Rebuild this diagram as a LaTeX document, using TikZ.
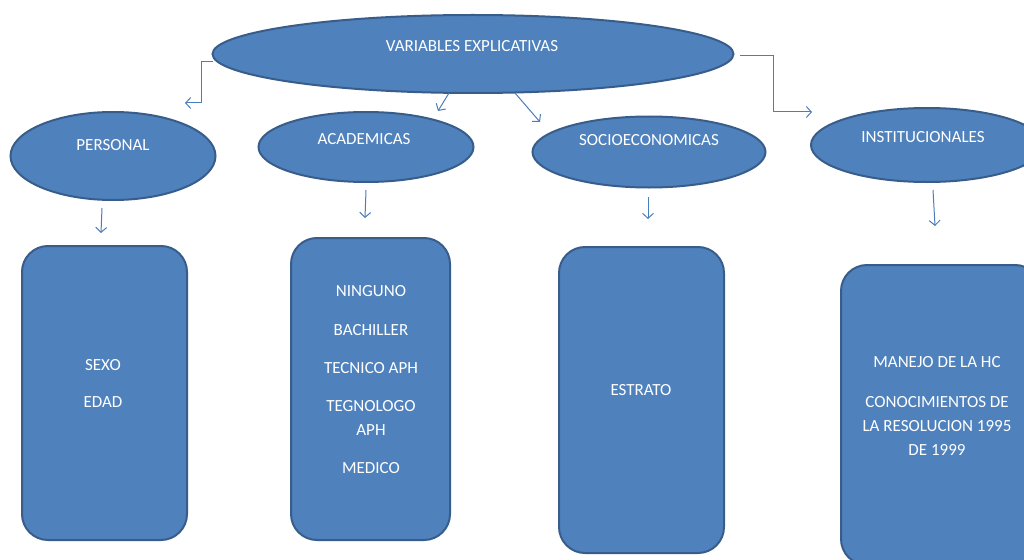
\documentclass[tikz,border=0pt]{standalone}
\usepackage{fontspec}
\setmainfont{Carlito}
\usetikzlibrary{shapes.geometric,arrows.meta}
\definecolor{boxfill}{HTML}{4F81BD}
\definecolor{boxline}{HTML}{385D8A}
\definecolor{arrowcol}{HTML}{4A7EBB}
\tikzset{
  ell/.style={ellipse, fill=boxfill, draw=boxline, line width=2pt, inner sep=0pt},
  rbox/.style={rectangle, rounded corners=26pt, fill=boxfill, draw=boxline, line width=2pt, inner sep=0pt},
  lbl/.style={text=white, font=\fontsize{17}{20}\selectfont, inner sep=0pt, align=center},
  conn/.style={draw=arrowcol, line width=1pt, -{Straight Barb[length=5pt,width=11pt]}},
}
\begin{document}
\begin{tikzpicture}[x=1pt,y=-1pt]
\useasboundingbox (0,0) rectangle (1024,559);
\clip (0,0) rectangle (1024,559);
\fill[white] (0,0) rectangle (1024,559);

% ellipses
\node[ell, minimum width=521pt, minimum height=78pt] (root) at (473,54) {};
\node[ell, minimum width=205pt, minimum height=88pt] (pers) at (113,156) {};
\node[ell, minimum width=215pt, minimum height=70pt] (acad) at (366,147) {};
\node[ell, minimum width=233pt, minimum height=71pt] (socio) at (649,152) {};
\node[ell, minimum width=232pt, minimum height=74pt] (inst) at (927,145) {};

\node[lbl] (troot) at (472,46) {VARIABLES EXPLICATIVAS};
\node[lbl] (tpers) at (113,145) {PERSONAL};
\node[lbl] (tacad) at (364,139) {ACADEMICAS};
\node[lbl] (tsocio) at (649,140) {SOCIOECONOMICAS};
\node[lbl] (tinst) at (923,137) {INSTITUCIONALES};

% rounded boxes
\node[rbox, minimum width=165pt, minimum height=294pt] (b1) at (104.5,393) {};
\node[rbox, minimum width=159pt, minimum height=302pt] (b2) at (370.5,389) {};
\node[rbox, minimum width=165pt, minimum height=306pt] (b3) at (641.5,400) {};
\node[rbox, minimum width=200pt, minimum height=300pt] (b4) at (941,415) {};

\node[lbl] (sexo) at (103,365) {SEXO};
\node[lbl] (edad) at (103,402) {EDAD};
\node[lbl] (ning) at (371,291) {NINGUNO};
\node[lbl] (bach) at (371,330) {BACHILLER};
\node[lbl] (tec) at (371,368) {TECNICO APH};
\node[lbl] (tegn) at (371,418) {TEGNOLOGO\\[4pt]APH};
\node[lbl] (med) at (371,468) {MEDICO};
\node[lbl] (estr) at (641,390) {ESTRATO};
\node[lbl] (hc) at (937,362) {MANEJO DE LA HC};
\node[lbl, font=\fontsize{17}{24}\selectfont] (conoc) at (937,426) {CONOCIMIENTOS DE\\LA RESOLUCION 1995\\DE 1999};

% connectors from the root
\coordinate (rl) at (213,62);
\coordinate (rl1) at (201,62);
\coordinate (rl2) at (201,103);
\coordinate (pl) at (185,103);
\draw[conn] (rl) -- (rl1) -- (rl2) -- (pl);

\coordinate (ra) at (449,93);
\coordinate (aa) at (438,111);
\draw[conn] (ra) -- (aa);

\coordinate (rs) at (515,93);
\coordinate (sa) at (540,122);
\draw[conn] (rs) -- (sa);

\coordinate (rr) at (740,56);
\coordinate (rr1) at (773,56);
\coordinate (rr2) at (773,112);
\coordinate (ia) at (812,112);
\draw[conn] (rr) -- (rr1) -- (rr2) -- (ia);

% connectors from categories to boxes
\coordinate (p0) at (102,208);  \coordinate (p1) at (101,233);
\coordinate (a0) at (366,190);  \coordinate (a1) at (365,218);
\coordinate (s0) at (648,197);  \coordinate (s1) at (648,219);
\coordinate (i0) at (933,190);  \coordinate (i1) at (935,226);
\draw[conn] (p0) -- (p1);
\draw[conn] (a0) -- (a1);
\draw[conn] (s0) -- (s1);
\draw[conn] (i0) -- (i1);
\end{tikzpicture}
\end{document}
